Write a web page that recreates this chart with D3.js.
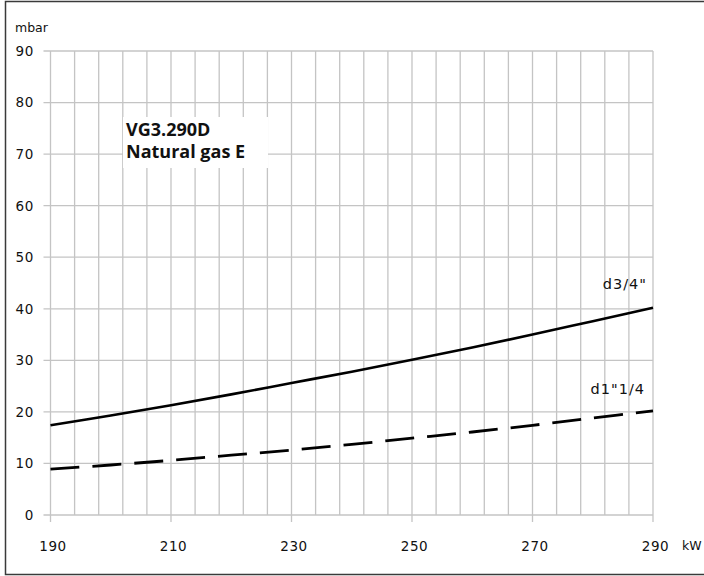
<!DOCTYPE html>
<html>
<head>
<meta charset="utf-8">
<script src="https://cdn.jsdelivr.net/npm/d3@7/dist/d3.min.js"></script>
<style>
  html, body { margin: 0; padding: 0; background: #fff; }
  svg { display: block; }
</style>
</head>
<body>
<svg id="chart" width="704" height="576"></svg>
<script>
// Burner output (kW) and gas pressure drop (mbar) for the two valve sizes
const outputKW = [190, 200, 210, 220, 230, 240, 250, 260, 270, 280, 290];
const dropD34 = [17.4, 19.3, 21.3, 23.4, 25.6, 27.8, 30.1, 32.5, 35.0, 37.6, 40.2];
const dropD114 = [8.9, 9.7, 10.6, 11.6, 12.6, 13.7, 14.9, 16.1, 17.4, 18.8, 20.2];

const xTicks = [190, 210, 230, 250, 270, 290];
const yTicks = [0, 10, 20, 30, 40, 50, 60, 70, 80, 90];
const xGrid = d3.range(190, 291, 4);

const seriesNames = ['d3/4"', 'd1"1/4'];
const titleLines = ['VG3.290D', 'Natural gas E'];

const svg = d3.select('#chart');
const x = d3.scaleLinear().domain([190, 290]).range([50.5, 653]);
const y = d3.scaleLinear().domain([0, 90]).range([515, 51]);

const gridColor = '#c4c4c4';
const tickFont = '"DejaVu Sans", Verdana, sans-serif';

// outer frame (open on the right)
svg.append('path')
  .attr('d', 'M710,1.5 H5.5 V574.5 H710')
  .attr('fill', 'none').attr('stroke', '#3a3a3a').attr('stroke-width', 1.5);

// vertical grid lines
svg.append('g').selectAll('line').data(xGrid).join('line')
  .attr('x1', d => x(d)).attr('x2', d => x(d))
  .attr('y1', y(90)).attr('y2', y(0))
  .attr('stroke', gridColor).attr('stroke-width', 1.3);

// horizontal grid lines with left tick marks
svg.append('g').selectAll('line').data(yTicks).join('line')
  .attr('x1', x(190) - 7).attr('x2', x(290))
  .attr('y1', d => y(d)).attr('y2', d => y(d))
  .attr('stroke', gridColor).attr('stroke-width', 1.3);

// major x tick marks below the axis
svg.append('g').selectAll('line').data(xTicks).join('line')
  .attr('x1', d => x(d)).attr('x2', d => x(d))
  .attr('y1', y(0)).attr('y2', y(0) + 7)
  .attr('stroke', gridColor).attr('stroke-width', 1.3);

// y tick labels
svg.append('g').selectAll('text').data(yTicks).join('text')
  .attr('x', 34).attr('y', d => y(d))
  .attr('dy', '0.36em')
  .attr('text-anchor', 'end')
  .attr('font-family', tickFont).attr('font-size', 13.5)
  .attr('letter-spacing', 0.6)
  .attr('fill', '#111')
  .text(d => d);

// x tick labels
svg.append('g').selectAll('text').data(xTicks).join('text')
  .attr('x', d => x(d) + 2.5).attr('y', 551)
  .attr('text-anchor', 'middle')
  .attr('font-family', tickFont).attr('font-size', 13.5)
  .attr('letter-spacing', 0.6)
  .attr('fill', '#111')
  .text(d => d);

// axis units
svg.append('text').attr('x', 15).attr('y', 32)
  .attr('font-family', tickFont).attr('font-size', 12.5).attr('fill', '#111')
  .text('mbar');
svg.append('text').attr('x', 682).attr('y', 550)
  .attr('font-family', tickFont).attr('font-size', 12.5).attr('fill', '#111')
  .text('kW');

// title box over the grid
svg.append('rect')
  .attr('x', 123).attr('y', 117).attr('width', 145).attr('height', 51)
  .attr('fill', '#fff');
svg.append('g').selectAll('text').data(titleLines).join('text')
  .attr('x', 126).attr('y', (d, i) => 135.5 + i * 22)
  .attr('font-family', '"Open Sans", "Noto Sans", sans-serif')
  .attr('font-weight', 700).attr('font-size', 18)
  .attr('fill', '#111')
  .text(d => d);

// pressure-drop curves
const line = d3.line()
  .x(d => x(d[0])).y(d => y(d[1]))
  .curve(d3.curveCatmullRom);

svg.append('path')
  .datum(outputKW.map((k, i) => [k, dropD34[i]]))
  .attr('d', line)
  .attr('fill', 'none').attr('stroke', '#000').attr('stroke-width', 2.6);

svg.append('path')
  .datum(outputKW.map((k, i) => [k, dropD114[i]]))
  .attr('d', line)
  .attr('fill', 'none').attr('stroke', '#000').attr('stroke-width', 2.8)
  .attr('stroke-dasharray', '29,13');

// curve labels
svg.append('text').attr('x', 647).attr('y', 289)
  .attr('text-anchor', 'end')
  .attr('font-family', tickFont).attr('font-size', 14.5)
  .attr('letter-spacing', 1).attr('fill', '#111')
  .text(seriesNames[0]);
svg.append('text').attr('x', 645).attr('y', 393.5)
  .attr('text-anchor', 'end')
  .attr('font-family', tickFont).attr('font-size', 14.5)
  .attr('letter-spacing', 1).attr('fill', '#111')
  .text(seriesNames[1]);
</script>
</body>
</html>
